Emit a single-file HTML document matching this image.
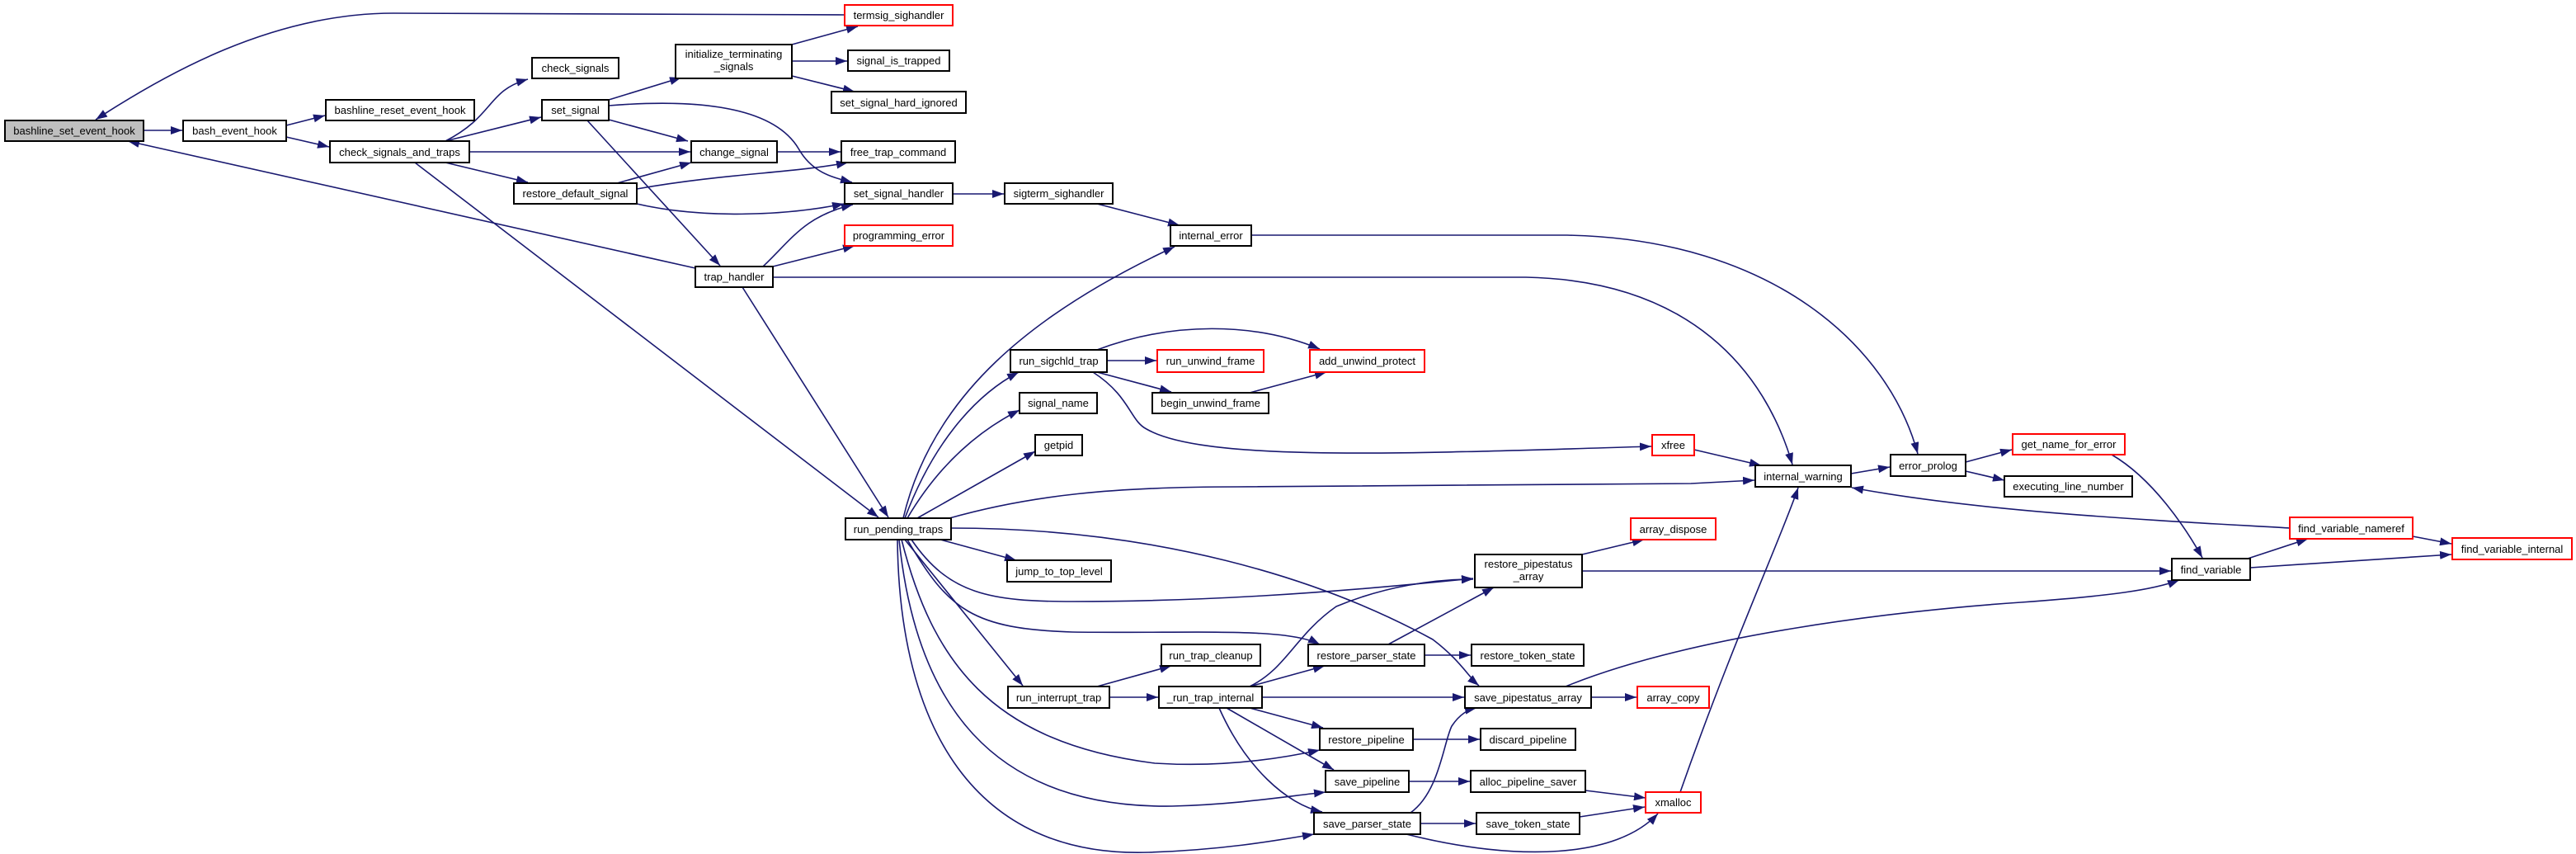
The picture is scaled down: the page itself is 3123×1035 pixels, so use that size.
<!DOCTYPE html>
<html><head><meta charset="utf-8"><style>
html,body{margin:0;padding:0;background:#fff;}
svg{display:block;}
text{font-family:"Liberation Sans",Arial,sans-serif;font-size:13px;fill:#000;text-anchor:middle;}
.e{fill:none;stroke:#191970;stroke-width:1.6;marker-end:url(#a);}
.n{fill:#fff;stroke:#000;stroke-width:2;}
.r{fill:#fff;stroke:#ff0000;stroke-width:2;}
</style></head><body>
<svg width="3123" height="1035" viewBox="0 0 3123 1035" xmlns="http://www.w3.org/2000/svg">
<defs><marker id="a" markerUnits="userSpaceOnUse" markerWidth="15" markerHeight="11" refX="14" refY="5" orient="auto"><path d="M0,0 L14,5 L0,10 z" fill="#191970"/></marker></defs>
<g>
<path class="e" d="M174,158 L221,158"/>
<path class="e" d="M347,152 L394,140"/>
<path class="e" d="M347,166 L399,178"/>
<path class="e" d="M540,171 C600,140 590,110 640,96"/>
<path class="e" d="M540,171 L656,142"/>
<path class="e" d="M569,184 L837,184"/>
<path class="e" d="M540,197 L640,221"/>
<path class="e" d="M503,197 L1065,627"/>
<path class="e" d="M738,121 L826,94"/>
<path class="e" d="M738,145 L834,171"/>
<path class="e" d="M738,128 C900,115 950,150 968,180 C985,210 1010,215 1033,221"/>
<path class="e" d="M712,146 L873,322"/>
<path class="e" d="M960,54 L1040,32"/>
<path class="e" d="M960,74 L1027,74"/>
<path class="e" d="M960,92 L1036,111"/>
<path class="e" d="M942,184 L1019,184"/>
<path class="e" d="M748,222 L838,197"/>
<path class="e" d="M772,229 C880,210 960,210 1028,197"/>
<path class="e" d="M772,247 C850,265 950,262 1023,247"/>
<path class="e" d="M843,325 L155,171"/>
<path class="e" d="M1024,18 L477,16 C330,16 200,90 116,145"/>
<path class="e" d="M925,323 C960,290 975,262 1034,248"/>
<path class="e" d="M937,323 L1036,298"/>
<path class="e" d="M937,336 L1850,336 C2050,340 2140,450 2173,563"/>
<path class="e" d="M900,348 L1077,627"/>
<path class="e" d="M1330,247 L1430,273"/>
<path class="e" d="M1517,285 L1900,285 C2150,290 2290,420 2325,550"/>
<path class="e" d="M1155,235 L1217,235"/>
<path class="e" d="M1095,628 C1130,480 1250,380 1424,299"/>
<path class="e" d="M1097,628 C1130,540 1180,480 1235,451"/>
<path class="e" d="M1100,628 C1140,560 1190,520 1236,497"/>
<path class="e" d="M1112,628 L1255,547"/>
<path class="e" d="M1151,628 C1250,600 1350,590 1500,590 L2050,586 L2127,582"/>
<path class="e" d="M1140,654 L1232,679"/>
<path class="e" d="M1153,640 C1400,640 1600,700 1737,775 C1770,800 1780,820 1793,831"/>
<path class="e" d="M1105,654 C1150,720 1200,729 1300,729 C1450,729 1600,720 1786,701"/>
<path class="e" d="M1100,654 C1150,740 1180,762 1300,766 C1450,768 1560,760 1600,781"/>
<path class="e" d="M1097,654 L1240,831"/>
<path class="e" d="M1093,654 C1130,800 1200,900 1400,925 C1480,930 1550,920 1600,909"/>
<path class="e" d="M1090,654 C1110,850 1200,980 1421,977 C1500,975 1560,965 1607,960"/>
<path class="e" d="M1088,654 C1090,880 1180,1040 1393,1033 C1480,1030 1540,1020 1593,1011"/>
<path class="e" d="M1342,437 L1402,437"/>
<path class="e" d="M1330,424 C1420,390 1520,390 1600,423"/>
<path class="e" d="M1330,451 L1420,475"/>
<path class="e" d="M1325,451 C1370,480 1370,510 1390,520 C1460,560 1700,550 2002,541"/>
<path class="e" d="M1515,476 L1608,451"/>
<path class="e" d="M2054,545 L2135,564"/>
<path class="e" d="M2244,574 L2291,566"/>
<path class="e" d="M2383,560 L2439,545"/>
<path class="e" d="M2383,571 L2430,582"/>
<path class="e" d="M2560,551 C2610,580 2650,640 2670,676"/>
<path class="e" d="M2776,640 C2600,630 2400,620 2245,591"/>
<path class="e" d="M2925,650 L2972,659"/>
<path class="e" d="M2725,677 L2798,653"/>
<path class="e" d="M2728,688 L2972,672"/>
<path class="e" d="M1918,672 L1993,654"/>
<path class="e" d="M1918,692 L2632,692"/>
<path class="e" d="M1683,781 L1811,712"/>
<path class="e" d="M1727,794 L1783,794"/>
<path class="e" d="M1330,832 L1420,807"/>
<path class="e" d="M1345,845 L1404,845"/>
<path class="e" d="M1515,832 C1560,810 1570,770 1620,735 C1680,710 1740,702 1786,702"/>
<path class="e" d="M1515,832 L1606,807"/>
<path class="e" d="M1530,845 L1775,845"/>
<path class="e" d="M1515,858 L1604,882"/>
<path class="e" d="M1487,858 L1617,933"/>
<path class="e" d="M1478,858 C1510,930 1560,975 1603,984"/>
<path class="e" d="M1929,845 L1984,845"/>
<path class="e" d="M1898,832 C2050,770 2300,740 2450,730 C2560,722 2610,715 2642,703"/>
<path class="e" d="M1713,896 L1794,896"/>
<path class="e" d="M1708,947 L1782,947"/>
<path class="e" d="M1922,958 L1995,967"/>
<path class="e" d="M1710,985 C1745,960 1750,900 1760,880 C1770,865 1780,860 1790,858"/>
<path class="e" d="M1722,998 L1789,998"/>
<path class="e" d="M1705,1011 C1840,1045 1960,1040 2010,986"/>
<path class="e" d="M1915,990 L1994,978"/>
<path class="e" d="M2037,960 C2100,780 2160,650 2180,591"/>
</g>
<g>
<rect x="6" y="146" width="168" height="25" fill="#bfbfbf" stroke="#000" stroke-width="2"/><text x="90" y="163">bashline_set_event_hook</text>
<rect class="n" x="222" y="146" width="125" height="25"/><text x="284.5" y="163">bash_event_hook</text>
<rect class="n" x="395" y="121" width="180" height="25"/><text x="485" y="138">bashline_reset_event_hook</text>
<rect class="n" x="400" y="171" width="169" height="26"/><text x="484.5" y="189">check_signals_and_traps</text>
<rect class="n" x="645" y="70" width="105" height="25"/><text x="697.5" y="87">check_signals</text>
<rect class="n" x="657" y="121" width="81" height="25"/><text x="697.5" y="138">set_signal</text>
<rect class="n" x="819" y="54" width="141" height="41"/><text x="889.5" y="70">initialize_terminating</text><text x="889.5" y="85">_signals</text>
<rect class="n" x="838" y="171" width="104" height="26"/><text x="890" y="189">change_signal</text>
<rect class="n" x="623" y="222" width="149" height="25"/><text x="697.5" y="239">restore_default_signal</text>
<rect class="r" x="1024" y="6" width="131" height="25"/><text x="1089.5" y="23">termsig_sighandler</text>
<rect class="n" x="1028" y="61" width="123" height="25"/><text x="1089.5" y="78">signal_is_trapped</text>
<rect class="n" x="1008" y="111" width="163" height="26"/><text x="1089.5" y="129">set_signal_hard_ignored</text>
<rect class="n" x="1020" y="171" width="138" height="26"/><text x="1089" y="189">free_trap_command</text>
<rect class="n" x="1024" y="222" width="131" height="25"/><text x="1089.5" y="239">set_signal_handler</text>
<rect class="r" x="1024" y="273" width="131" height="25"/><text x="1089.5" y="290">programming_error</text>
<rect class="n" x="843" y="323" width="94" height="25"/><text x="890" y="340">trap_handler</text>
<rect class="n" x="1218" y="222" width="131" height="25"/><text x="1283.5" y="239">sigterm_sighandler</text>
<rect class="n" x="1419" y="273" width="98" height="25"/><text x="1468" y="290">internal_error</text>
<rect class="n" x="1225" y="424" width="117" height="27"/><text x="1283.5" y="442">run_sigchld_trap</text>
<rect class="r" x="1403" y="424" width="129" height="27"/><text x="1467.5" y="442">run_unwind_frame</text>
<rect class="r" x="1588" y="424" width="139" height="27"/><text x="1657.5" y="442">add_unwind_protect</text>
<rect class="n" x="1236" y="476" width="94" height="25"/><text x="1283" y="493">signal_name</text>
<rect class="n" x="1397" y="476" width="141" height="25"/><text x="1467.5" y="493">begin_unwind_frame</text>
<rect class="n" x="1255" y="527" width="57" height="25"/><text x="1283.5" y="544">getpid</text>
<rect class="r" x="2003" y="527" width="51" height="25"/><text x="2028.5" y="544">xfree</text>
<rect class="n" x="1025" y="628" width="128" height="26"/><text x="1089" y="646">run_pending_traps</text>
<rect class="r" x="1977" y="628" width="103" height="26"/><text x="2028.5" y="646">array_dispose</text>
<rect class="n" x="1221" y="679" width="126" height="26"/><text x="1284" y="697">jump_to_top_level</text>
<rect class="n" x="1788" y="672" width="130" height="40"/><text x="1853" y="688">restore_pipestatus</text><text x="1853" y="703">_array</text>
<rect class="n" x="1408" y="781" width="120" height="26"/><text x="1468" y="799">run_trap_cleanup</text>
<rect class="n" x="1586" y="781" width="141" height="26"/><text x="1656.5" y="799">restore_parser_state</text>
<rect class="n" x="1784" y="781" width="136" height="26"/><text x="1852" y="799">restore_token_state</text>
<rect class="n" x="1222" y="832" width="123" height="26"/><text x="1283.5" y="850">run_interrupt_trap</text>
<rect class="n" x="1405" y="832" width="125" height="26"/><text x="1467.5" y="850">_run_trap_internal</text>
<rect class="n" x="1776" y="832" width="153" height="26"/><text x="1852.5" y="850">save_pipestatus_array</text>
<rect class="r" x="1985" y="832" width="87" height="26"/><text x="2028.5" y="850">array_copy</text>
<rect class="n" x="1600" y="883" width="113" height="26"/><text x="1656.5" y="901">restore_pipeline</text>
<rect class="n" x="1795" y="883" width="115" height="26"/><text x="1852.5" y="901">discard_pipeline</text>
<rect class="n" x="1607" y="934" width="101" height="26"/><text x="1657.5" y="952">save_pipeline</text>
<rect class="n" x="1783" y="934" width="139" height="26"/><text x="1852.5" y="952">alloc_pipeline_saver</text>
<rect class="r" x="1995" y="960" width="67" height="25"/><text x="2028.5" y="977">xmalloc</text>
<rect class="n" x="1593" y="985" width="129" height="26"/><text x="1657.5" y="1003">save_parser_state</text>
<rect class="n" x="1790" y="985" width="125" height="26"/><text x="1852.5" y="1003">save_token_state</text>
<rect class="n" x="2128" y="564" width="116" height="26"/><text x="2186" y="582">internal_warning</text>
<rect class="n" x="2292" y="551" width="91" height="26"/><text x="2337.5" y="569">error_prolog</text>
<rect class="r" x="2440" y="526" width="136" height="25"/><text x="2508" y="543">get_name_for_error</text>
<rect class="n" x="2430" y="577" width="155" height="25"/><text x="2507.5" y="594">executing_line_number</text>
<rect class="r" x="2776" y="627" width="149" height="26"/><text x="2850.5" y="645">find_variable_nameref</text>
<rect class="r" x="2973" y="652" width="145" height="26"/><text x="3045.5" y="670">find_variable_internal</text>
<rect class="n" x="2633" y="677" width="95" height="26"/><text x="2680.5" y="695">find_variable</text>
</g>
</svg>
</body></html>
